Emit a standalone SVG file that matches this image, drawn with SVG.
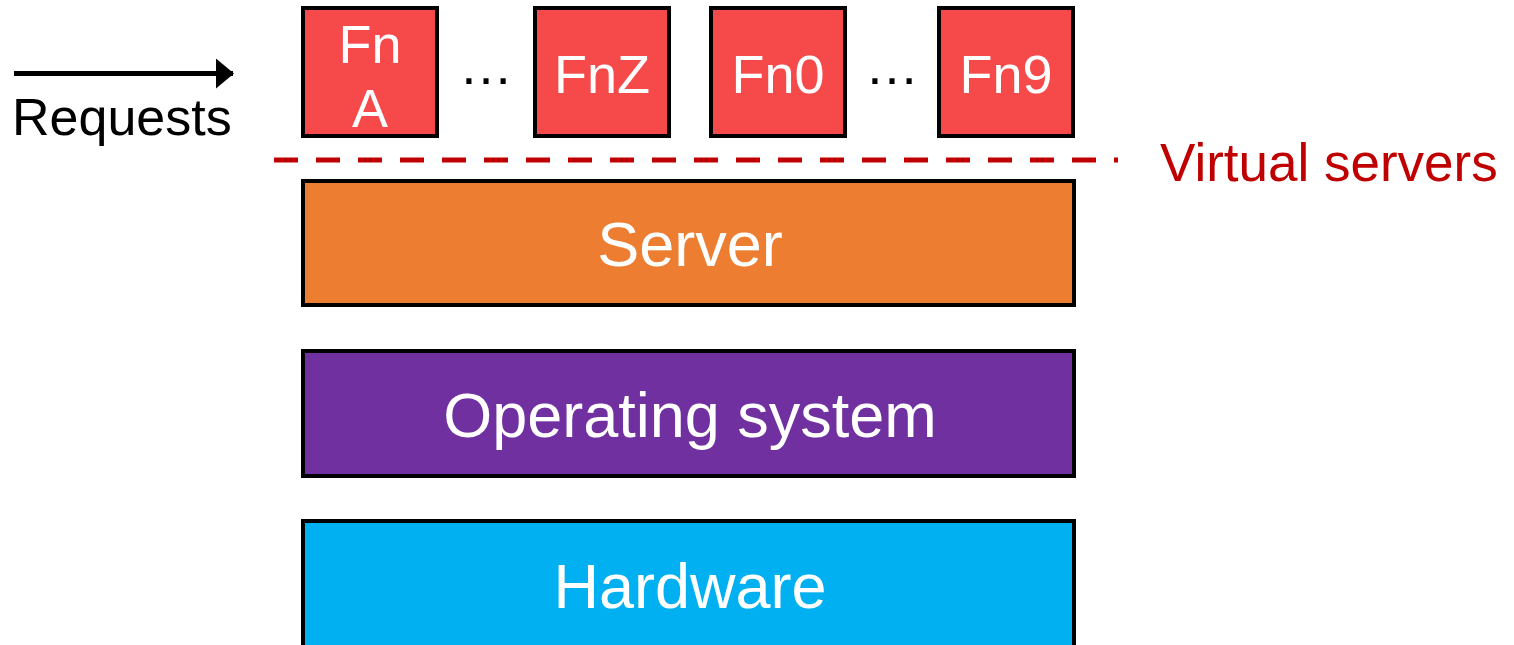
<svg xmlns="http://www.w3.org/2000/svg" width="1514" height="645" viewBox="0 0 1514 645">
  <style>
    .fn { fill: #F64A4A; stroke: #000; stroke-width: 4; }
    .layer { stroke: #000; stroke-width: 4; }
    .wt { fill: #fff; font-family: "Liberation Sans", Arial, sans-serif; text-anchor: middle; }
    .fnt { font-size: 54px; }
    .big { font-size: 63px; }
    .dark { fill: #000; font-family: "Liberation Sans", Arial, sans-serif; }
  </style>
  <defs>
    <marker id="arrowhead" markerWidth="18" markerHeight="30" refX="17" refY="15" orient="auto" markerUnits="userSpaceOnUse">
      <path d="M0,0 L18,15 L0,30 Z" fill="#000"/>
    </marker>
  </defs>
  <rect width="1514" height="645" fill="#fff"/>

  <!-- Function instances -->
  <g id="fnA">
    <rect class="fn" x="303" y="8" width="134" height="128"/>
    <text class="wt fnt" x="370" y="63">Fn</text>
    <text class="wt fnt" x="370" y="127">A</text>
  </g>
  <g id="fnZ">
    <rect class="fn" x="535" y="8" width="134" height="128"/>
    <text class="wt fnt" x="602" y="93">FnZ</text>
  </g>
  <g id="fn0">
    <rect class="fn" x="711" y="8" width="134" height="128"/>
    <text class="wt fnt" x="778" y="93">Fn0</text>
  </g>
  <g id="fn9">
    <rect class="fn" x="939" y="8" width="134" height="128"/>
    <text class="wt fnt" x="1006" y="93">Fn9</text>
  </g>
  <text class="dark" x="486" y="84" font-size="54" text-anchor="middle">…</text>
  <text class="dark" x="892" y="84" font-size="54" text-anchor="middle">…</text>

  <!-- Virtual server boundary -->
  <g id="virtual-servers">
    <line x1="274" y1="160" x2="1118" y2="160" stroke="#C00000" stroke-width="5" stroke-dasharray="24 18"/>
    <text x="1160" y="181" font-family="Liberation Sans, Arial, sans-serif" font-size="53" fill="#C00000">Virtual servers</text>
  </g>

  <!-- Stack layers -->
  <g id="server">
    <rect class="layer" x="303" y="181" width="771" height="124" fill="#ED7D31"/>
    <text class="wt big" x="690" y="266">Server</text>
  </g>
  <g id="os">
    <rect class="layer" x="303" y="351" width="771" height="125" fill="#7030A0"/>
    <text class="wt big" x="690" y="437">Operating system</text>
  </g>
  <g id="hardware">
    <rect class="layer" x="303" y="521" width="771" height="140" fill="#00B0F0"/>
    <text class="wt big" x="690" y="608">Hardware</text>
  </g>

  <!-- Incoming requests -->
  <g id="connectors">
    <line x1="14" y1="73.5" x2="233" y2="73.5" stroke="#000" stroke-width="5" marker-end="url(#arrowhead)"/>
  </g>
  <g id="requests">
    <text class="dark" x="12" y="135" font-size="52">Requests</text>
  </g>
</svg>
